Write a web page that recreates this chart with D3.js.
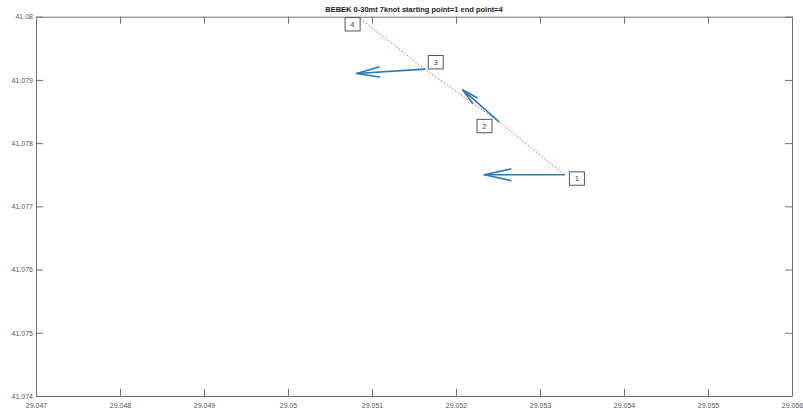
<!DOCTYPE html>
<html><head><meta charset="utf-8">
<script src="https://cdn.jsdelivr.net/npm/d3@7/dist/d3.min.js"></script>
<style>body{margin:0;background:#fff}svg{display:block}</style>
</head><body>
<script>
// ---- data ----
const title = "BEBEK 0-30mt 7knot starting point=1 end point=4";
const pointIds = ["1", "2", "3", "4"];
const lon = [29.05329, 29.05251, 29.05163, 29.05083];
const lat = [41.07750, 41.07834, 41.07917, 41.08000];
const velU = [-0.000952, -0.000429, -0.000813, 0];
const velV = [0, 0.000501, -0.000068, 0];
const labelLon = [29.05335, 29.05225, 29.05167, 29.05068];
const labelLat = [41.07744, 41.07827, 41.07928, 41.07988];
const xTicks = [29.047, 29.048, 29.049, 29.05, 29.051, 29.052, 29.053, 29.054, 29.055, 29.056];
const yTicks = [41.074, 41.075, 41.076, 41.077, 41.078, 41.079, 41.08];

const W = 803, H = 411;
const m = {left: 36, right: 11, top: 16.7, bottom: 15};
const svg = d3.select("body").append("svg").attr("width", W).attr("height", H);
const x = d3.scaleLinear().domain([29.047, 29.056]).range([m.left, W - m.right]);
const y = d3.scaleLinear().domain([41.074, 41.08]).range([H - m.bottom, m.top]);
const fmt = d => String(+d.toFixed(3));
const axisCol = "#707070", textCol = "#555";
const font = "Liberation Sans, Arial, sans-serif";

// axes (MATLAB-style box with inward ticks)
const tl = 7;
const gB = svg.append("g").attr("transform", `translate(0,${y.range()[0]})`)
  .call(d3.axisBottom(x).tickValues(xTicks).tickFormat(fmt).tickSizeInner(-tl).tickSizeOuter(0).tickPadding(tl + 3));
const gT = svg.append("g").attr("transform", `translate(0,${y.range()[1]})`)
  .call(d3.axisTop(x).tickValues(xTicks).tickFormat("").tickSizeInner(-tl).tickSizeOuter(0));
const gL = svg.append("g").attr("transform", `translate(${x.range()[0]},0)`)
  .call(d3.axisLeft(y).tickValues(yTicks).tickFormat(fmt).tickSizeInner(-tl).tickSizeOuter(0).tickPadding(tl + 3));
const gR = svg.append("g").attr("transform", `translate(${x.range()[1]},0)`)
  .call(d3.axisRight(y).tickValues(yTicks).tickFormat("").tickSizeInner(-tl).tickSizeOuter(0));
[gB, gT, gL, gR].forEach(g => {
  g.selectAll("path.domain").attr("stroke", axisCol).attr("stroke-width", 1);
  g.selectAll(".tick line").attr("stroke", axisCol).attr("stroke-width", 1);
  g.selectAll(".tick text").attr("fill", textCol).attr("font-size", 7).attr("font-family", font);
});
gB.selectAll(".tick text").attr("dy", "0.3em");
gL.selectAll(".tick text").attr("x", -3);

// title
svg.append("text").attr("x", 414).attr("y", 11.5).attr("text-anchor", "middle")
  .attr("font-family", font).attr("font-weight", "bold").attr("font-size", 7.5)
  .attr("fill", "#222").text(title);

// dotted path 1..4
const idx = d3.range(lon.length);
svg.append("path").datum(idx)
  .attr("d", d3.line().x(i => x(lon[i])).y(i => y(lat[i])))
  .attr("fill", "none").attr("stroke", "#e0505c").attr("stroke-width", 1)
  .attr("stroke-dasharray", "1.5,2");

// quiver arrows (MATLAB style open heads)
const qcol = "#2a7ab8";
const alpha = 0.33, beta = 0.22;
idx.forEach(i => {
  const x0 = x(lon[i]), y0 = y(lat[i]);
  const x1 = x(lon[i] + velU[i]), y1 = y(lat[i] + velV[i]);
  const dx = x1 - x0, dy = y1 - y0;
  if (Math.hypot(dx, dy) < 0.5) return;
  const g = svg.append("g").attr("stroke", qcol).attr("stroke-width", 1.6)
    .attr("fill", "none").attr("stroke-linecap", "round").attr("stroke-linejoin", "round");
  g.append("line").attr("x1", x0).attr("y1", y0).attr("x2", x1).attr("y2", y1);
  const hx1 = x1 - alpha * (dx + beta * dy), hy1 = y1 - alpha * (dy - beta * dx);
  const hx2 = x1 - alpha * (dx - beta * dy), hy2 = y1 - alpha * (dy + beta * dx);
  g.append("path").attr("d", `M${hx1},${hy1}L${x1},${y1}L${hx2},${hy2}`);
});

// boxed labels
idx.forEach(i => {
  const lx = x(labelLon[i]), ly = y(labelLat[i]);
  const g = svg.append("g");
  const t = g.append("text").attr("x", lx + 5.5).attr("y", ly).attr("dy", "0.35em")
    .attr("font-family", font).attr("font-size", 7).attr("fill", "#333").text(pointIds[i]);
  const bb = t.node().getBBox();
  g.insert("rect", "text").attr("x", lx).attr("y", ly - 6.7)
    .attr("width", bb.width + 11).attr("height", 13.4)
    .attr("fill", "#fff").attr("stroke", "#555").attr("stroke-width", 1);
});
</script>
</body></html>
